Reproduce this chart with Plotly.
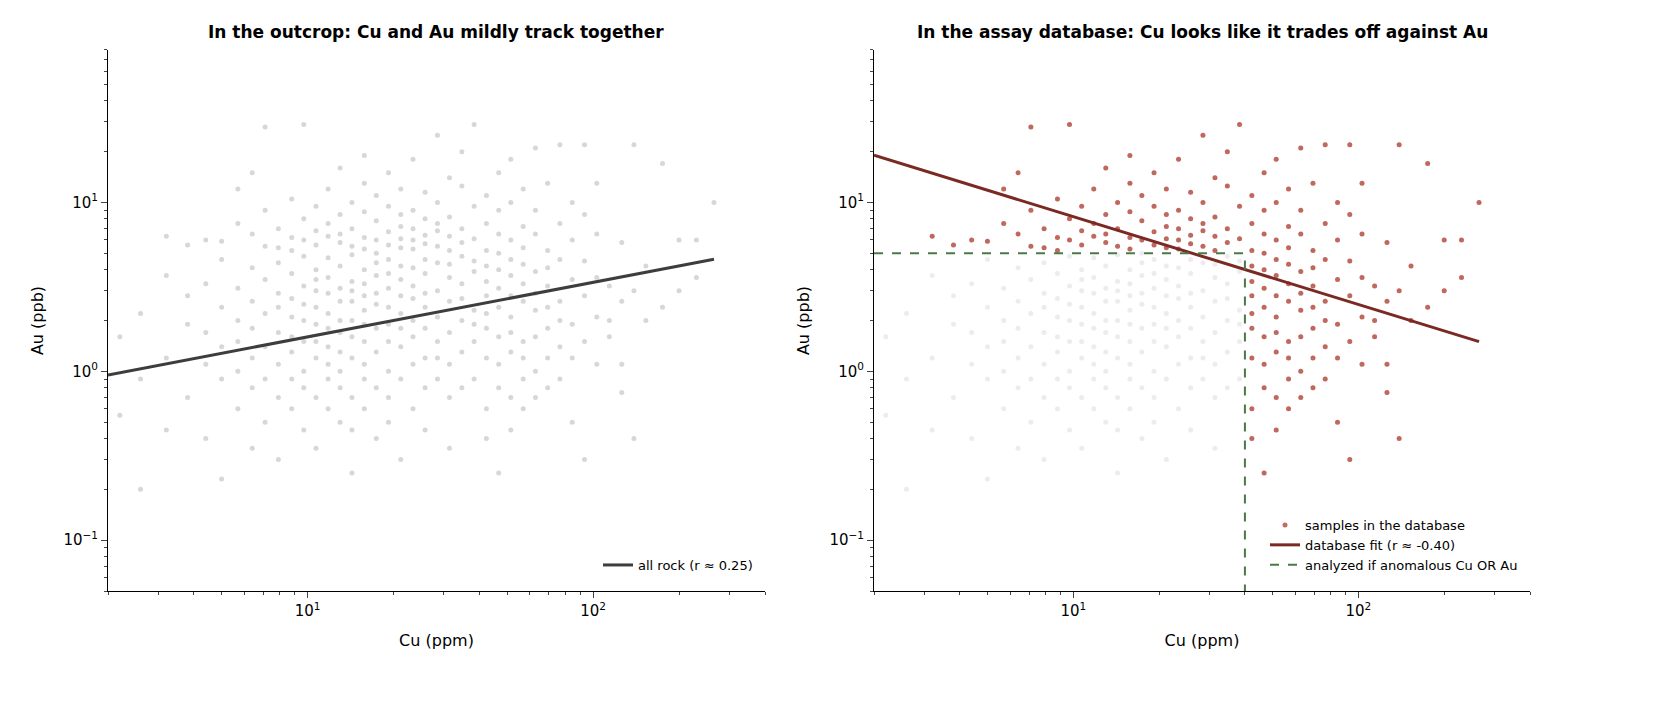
import math
import plotly.graph_objects as go

# Cu bins (ppm) and Au values (ppb) read from the cloud
cu_bins = [2.2,2.6,3.2,3.8,4.4,5.0,5.7,6.4,7.1,7.9,8.8,9.7,10.7,11.8,13.0,14.3,15.8,17.4,19.2,21.2,23.4,25.8,28.5,31.4,34.7,38.3,42.3,46.7,51.5,56.9,62.8,69.3,76.5,84.5,93.3,103,114,126,139,153,175,200,230,265]
au_bins = [
 [0.55,1.6],[0.2,2.2,0.9],[6.3,1.2,0.45,3.7],[1.9,0.7,2.8,5.6],[1.1,3.3,0.4,1.7,6.0],
 [2.4,0.9,1.4,4.6,0.23,5.9],[1.0,2.0,3.1,0.6,7.5,1.5,12.0],[2.6,1.2,0.8,4.1,1.8,6.5,0.35,15.0],
 [1.4,3.5,0.5,2.2,5.5,0.9,28.0,9.0],[1.7,2.9,0.7,4.4,1.1,7.0,2.4,0.3,5.4],
 [2.1,1.3,3.8,0.6,6.2,1.6,2.7,0.9,10.5,5.2],[1.5,2.5,4.8,0.8,3.2,1.0,8.0,2.0,0.45,29.0,6.0],
 [1.9,3.0,1.2,5.6,0.7,2.4,4.0,1.5,9.5,0.35,6.8,3.5],[2.2,1.4,3.6,0.9,6.3,1.8,2.9,0.6,4.7,12.0,1.1,7.5],
 [1.7,2.6,4.2,1.0,3.1,0.5,5.8,2.0,1.3,8.5,0.8,16.0,6.5],[2.0,3.4,1.2,4.9,0.7,2.6,1.6,7.0,0.25,10.0,5.5,3.0,0.45],
 [1.5,2.8,0.9,4.0,6.2,1.9,3.3,0.6,8.8,2.3,13.0,5.3,1.1,19.0],[2.5,1.3,3.7,0.8,5.0,1.8,7.8,2.9,0.4,11.0,6.0,4.4],
 [1.9,3.1,1.0,4.6,2.4,6.7,0.7,9.5,1.5,15.0,5.6,0.5,3.8],[2.2,1.4,3.5,5.4,0.9,7.2,2.8,12.0,1.8,0.3,8.5,6.1,4.2],
 [1.6,2.7,4.1,1.1,6.0,3.2,9.0,0.6,2.0,18.0,5.3,7.0],[2.4,1.2,3.8,5.7,0.8,8.0,1.8,2.9,11.5,0.45,6.4,4.6],
 [1.5,3.0,2.1,4.4,0.9,6.8,10.0,1.2,25.0,5.5,7.5],[2.6,1.7,3.6,5.2,0.7,8.2,1.1,14.0,6.3,0.35,4.3],
 [2.0,3.3,1.3,4.8,7.0,0.8,12.5,5.8,2.7,20.0],[2.3,1.5,3.9,6.1,0.9,9.5,4.5,1.9,29.0],
 [2.8,1.2,4.2,0.6,7.5,1.8,3.4,11.0,0.4,5.2,2.2],[1.6,3.1,0.8,5.0,2.4,9.0,1.1,4.0,0.25,15.0,6.5],
 [2.1,3.7,1.3,6.0,0.7,2.8,10.0,1.7,4.6,0.45,18.0],[1.5,2.6,4.3,0.9,7.2,3.3,1.2,12.0,0.6,5.4],
 [2.3,1.0,3.9,6.5,1.6,0.7,9.0,2.9,21.0],[1.8,3.2,0.8,5.2,2.4,13.0,1.2,4.1],
 [2.6,1.4,4.6,0.9,7.5,2.0,22.0],[1.9,3.5,0.5,6.0,1.2,10.0],[2.8,1.5,4.5,0.3,8.5,22.0],
 [2.1,6.5,1.1,3.6,13.0],[3.2,1.6,2.0],[1.1,5.8,0.75,2.6],[22.0,3.0,0.4],[4.2,2.0],
 [17.0,2.4],[3.0,6.0],[3.6,6.0],[10.0]]

cu_cut = 40.0   # ppm
au_cut = 5.0    # ppb
# fitted log-log lines: log10(Au) = a + b*log10(Cu)
fit_all = (-0.119, 0.323)
fit_db = (1.436, -0.52)
fit_x = [2.0, 265.0]

cu = [c for c, aus in zip(cu_bins, au_bins) for _ in aus]
au = [a for aus in au_bins for a in aus]
sel = [(c > cu_cut) or (a > au_cut) for c, a in zip(cu, au)]
cu_db = [c for c, s in zip(cu, sel) if s]
au_db = [a for a, s in zip(au, sel) if s]

def line(fit):
    return [10 ** (fit[0] + fit[1] * math.log10(x)) for x in fit_x]

fig = go.Figure()
fig.add_trace(go.Scatter(x=cu, y=au, mode="markers", marker=dict(color="#bdbdbd", size=5, opacity=0.6),
                         showlegend=False, xaxis="x", yaxis="y"))
fig.add_trace(go.Scatter(x=fit_x, y=line(fit_all), mode="lines", line=dict(color="#3d3d3d", width=3),
                         name="all rock (r ≈ 0.25)", legend="legend", xaxis="x", yaxis="y"))
fig.add_trace(go.Scatter(x=cu, y=au, mode="markers", marker=dict(color="#e0e0e0", size=5, opacity=0.6),
                         showlegend=False, xaxis="x2", yaxis="y2"))
fig.add_trace(go.Scatter(x=cu_db, y=au_db, mode="markers", marker=dict(color="#b5473a", size=5, opacity=0.8),
                         name="samples in the database", legend="legend2", xaxis="x2", yaxis="y2"))
fig.add_trace(go.Scatter(x=fit_x, y=line(fit_db), mode="lines", line=dict(color="#7a2a22", width=3),
                         name="database fit (r ≈ -0.40)", legend="legend2", xaxis="x2", yaxis="y2"))
fig.add_trace(go.Scatter(x=[2, cu_cut, cu_cut], y=[au_cut, au_cut, 0.05], mode="lines",
                         line=dict(color="#4a7a4a", width=2, dash="dash"),
                         name="analyzed if anomalous Cu OR Au", legend="legend2", xaxis="x2", yaxis="y2"))

def minor_vals(lo, hi):
    return [m * 10 ** e for e in range(lo, hi) for m in range(2, 10)]

ax = dict(type="log", showline=True, linecolor="black", ticks="outside", ticklen=6, showgrid=False,
          zeroline=False, tickfont=dict(size=15, color="black"))
xt = dict(tickvals=[10, 100], ticktext=["10<sup>1</sup>", "10<sup>2</sup>"], range=[0.301, 2.602],
          title=dict(text="Cu (ppm)", font=dict(size=16)),
          minor=dict(ticks="outside", ticklen=3, showgrid=False, tickvals=minor_vals(0, 3)))
yt = dict(tickvals=[0.1, 1, 10], ticktext=["10<sup>−1</sup>", "10<sup>0</sup>", "10<sup>1</sup>"],
          range=[-1.301, 1.903], title=dict(text="Au (ppb)", font=dict(size=16)),
          minor=dict(ticks="outside", ticklen=3, showgrid=False, tickvals=minor_vals(-2, 2)))
W, H = 1668, 703
fig.update_layout(
    width=W, height=H, margin=dict(l=0, r=0, t=0, b=0), plot_bgcolor="white", paper_bgcolor="white",
    font=dict(family="DejaVu Sans", color="black"),
    xaxis=dict(**ax, **xt, domain=[100 / W, 757 / W], anchor="y"),
    yaxis=dict(**ax, **yt, domain=[1 - 583 / H, 1 - 42 / H], anchor="x"),
    xaxis2=dict(**ax, **xt, domain=[866 / W, 1522 / W], anchor="y2"),
    yaxis2=dict(**ax, **yt, domain=[1 - 583 / H, 1 - 42 / H], anchor="x2"),
    legend=dict(x=750 / W, y=1 - 572 / H, xanchor="right", yanchor="bottom", font=dict(size=13),
                bgcolor="rgba(0,0,0,0)"),
    legend2=dict(x=1515 / W, y=1 - 572 / H, xanchor="right", yanchor="bottom", font=dict(size=13),
                 bgcolor="rgba(0,0,0,0)", tracegroupgap=0),
    annotations=[
        dict(text="<b>In the outcrop: Cu and Au mildly track together</b>", x=428 / W, y=1 - 24 / H,
             xref="paper", yref="paper", xanchor="center", yanchor="middle", showarrow=False,
             font=dict(size=17)),
        dict(text="<b>In the assay database: Cu looks like it trades off against Au</b>", x=1194 / W,
             y=1 - 24 / H, xref="paper", yref="paper", xanchor="center", yanchor="middle",
             showarrow=False, font=dict(size=17)),
    ],
)
fig.write_html("out.html")
